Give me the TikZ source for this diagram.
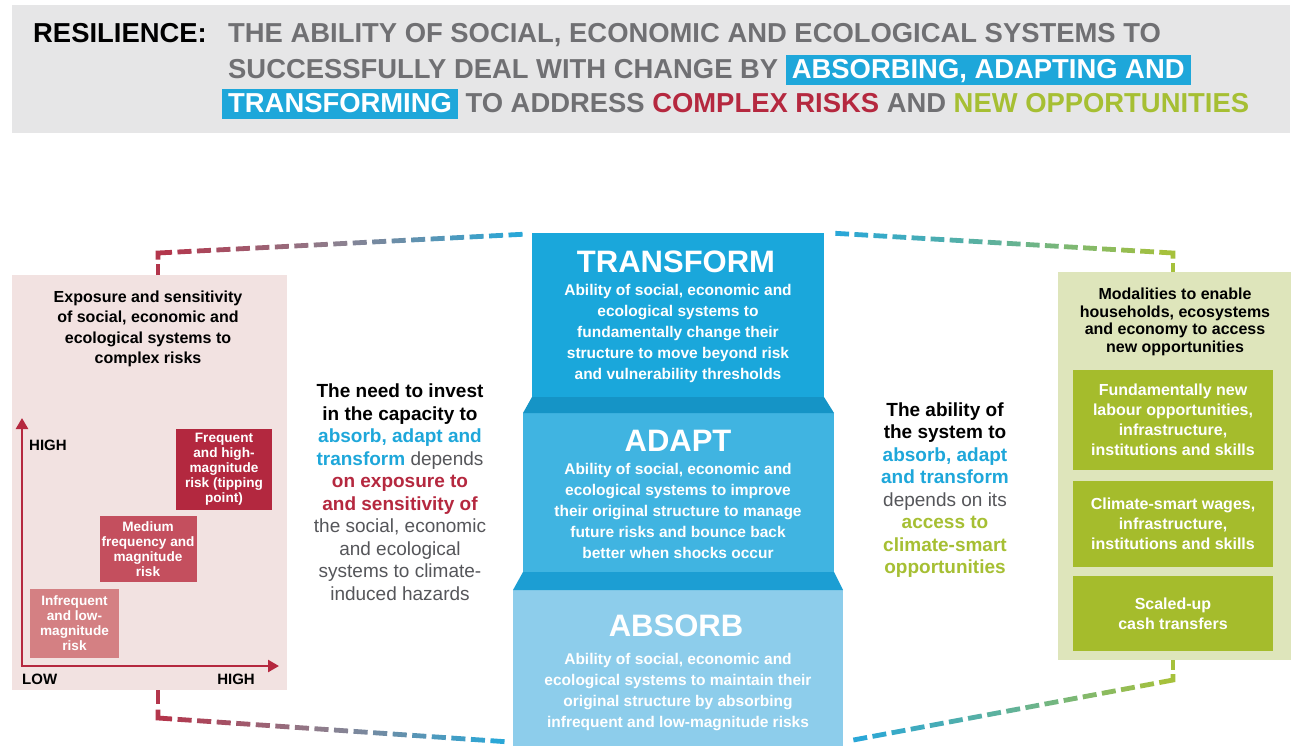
\documentclass[tikz,border=0pt]{standalone}
\usepackage{fontspec}
\setmainfont{Liberation Sans}
\usetikzlibrary{calc,arrows.meta}

\definecolor{hdrgray}{HTML}{E6E6E7}
\definecolor{hdrtext}{HTML}{707073}
\definecolor{crim}{HTML}{B5283F}
\definecolor{skyblue}{HTML}{1EA7DA}
\definecolor{olive}{HTML}{A6BF33}
\definecolor{pinkbg}{HTML}{F2E2E1}
\definecolor{olivebg}{HTML}{DEE5BB}
\definecolor{oliveboxc}{HTML}{A5BC2C}
\definecolor{riskhi}{HTML}{B3283F}
\definecolor{riskmd}{HTML}{C44F5E}
\definecolor{risklo}{HTML}{D48083}
\definecolor{trcol}{HTML}{1AA7DB}
\definecolor{adcol}{HTML}{40B4E1}
\definecolor{abcol}{HTML}{8DCDEB}
\definecolor{faceA}{HTML}{1594C6}
\definecolor{faceB}{HTML}{1C9ED3}
\definecolor{bodygray}{HTML}{55565A}
\definecolor{dashcrim}{HTML}{B3364C}
\definecolor{dashmauve}{HTML}{8C8190}
\definecolor{dashblue}{HTML}{2AA7D7}
\definecolor{dashteal}{HTML}{62B297}
\definecolor{dashgreen}{HTML}{A6C13C}

% highlighted words in the headline
\newcommand\hdrmark[1]{{\setlength{\fboxsep}{0pt}\colorbox{skyblue}{\rule[-6.5pt]{0pt}{30pt}\hspace{6pt}\textcolor{white}{#1}\hspace{6pt}}}}

% dashed connector: short vertical run #1->#2, then a dashed run #2->#3 whose
% colour fades from #4 through #5 to #6, in #7 dashes
\newcommand\fadeconnector[7]{%
  \draw[dashseg, draw=#4] (#1) -- ($(#1)!0.5!(#2)$);
  \draw[dashseg, draw=#4] ($(#1)!0.7!(#2)$) -- (#2) -- ($(#2)!{0.72/#7}!(#3)$);
  \foreach \k in {2,...,#7}{%
    \pgfmathsetmacro\fdA{(\k-1)/#7}%
    \pgfmathsetmacro\fdB{(\k-0.28)/#7}%
    \pgfmathsetmacro\fdF{(\k-1)/(#7-1)}%
    \ifdim\fdF pt<0.5pt
      \pgfmathsetmacro\fdP{100-200*\fdF}%
      \draw[dashseg, draw=#4!\fdP!#5] ($(#2)!\fdA!(#3)$) -- ($(#2)!\fdB!(#3)$);
    \else
      \pgfmathsetmacro\fdP{200-200*\fdF}%
      \draw[dashseg, draw=#5!\fdP!#6] ($(#2)!\fdA!(#3)$) -- ($(#2)!\fdB!(#3)$);
    \fi
  }%
}

\tikzset{
  panel/.style={inner sep=0pt, outer sep=0pt, anchor=north west, draw=none},
  hdrtxt/.style={inner sep=0pt, anchor=base west, text=hdrtext, font=\bfseries\fontsize{27.4}{30}\selectfont},
  steptitle/.style={inner sep=0pt, text=white, font=\bfseries\fontsize{31}{32}\selectfont},
  stepbody/.style={inner sep=0pt, align=center, text=white, font=\bfseries\fontsize{15.5}{21}\selectfont},
  paneltitle/.style={inner sep=0pt, align=center, text=black, font=\bfseries\fontsize{16}{20.3}\selectfont},
  risktxt/.style={inner sep=0pt, outer sep=0pt, align=center, text=white, font=\bfseries\fontsize{13.6}{15}\selectfont},
  opptxt/.style={inner sep=0pt, outer sep=0pt, align=center, text=white, font=\bfseries\fontsize{16}{20}\selectfont},
  sidetxt/.style={inner sep=0pt, align=center, font=\fontsize{19}{22.5}\selectfont},
  axlbl/.style={inner sep=0pt, text=black, font=\bfseries\fontsize{15}{16}\selectfont},
  axisline/.style={draw=crim, line width=2.5pt, -{Triangle[width=12pt,length=11pt]}},
  dashseg/.style={line width=4.8pt, line join=miter},
}

\begin{document}
\begin{tikzpicture}[x=1pt,y=-1pt]
\useasboundingbox[fill=white] (0,0) rectangle (1295,745);

% ---------- headline ----------
\node[panel, fill=hdrgray, minimum width=1278, minimum height=128] (hdr) at (12,5) {};
\node[hdrtxt, text=black] (res) at (33,42) {RESILIENCE:};
\node[hdrtxt] (h1) at (228,42) {THE ABILITY OF SOCIAL, ECONOMIC AND ECOLOGICAL SYSTEMS TO};
\node[hdrtxt] (h2) at (228,78) {SUCCESSFULLY DEAL WITH CHANGE BY \hdrmark{ABSORBING, ADAPTING AND}};
\node[hdrtxt] (h3) at (222,112) {\hdrmark{TRANSFORMING} TO ADDRESS \textcolor{crim}{COMPLEX RISKS} AND \textcolor{olive}{NEW OPPORTUNITIES}};

% ---------- left panel: risks ----------
\node[panel, fill=pinkbg, minimum width=275, minimum height=415] (risk) at (12,275) {};
\node[paneltitle] (risktitle) at (148,329) {Exposure and sensitivity\\of social, economic and\\ecological systems to\\complex risks};

\coordinate (orig) at (22,666);
\coordinate (ytip) at (22,418);
\coordinate (xtip) at (279,666);
\draw[axisline] (orig) -- (ytip);
\draw[axisline] ([xshift=-1.25pt]orig) -- (xtip);
\node[axlbl, anchor=west] (yhigh) at (29,445) {HIGH};
\node[axlbl, anchor=west] (xlow) at (22,679) {LOW};
\node[axlbl, anchor=east] (xhigh) at (255,679) {HIGH};

\node[risktxt, fill=riskhi, minimum width=96, minimum height=81] (hi) at (224,469.5) {Frequent\\and high-\\magnitude\\risk (tipping\\point)};
\node[risktxt, fill=riskmd, minimum width=97, minimum height=66] (md) at (148,549) {Medium\\frequency and\\magnitude\\risk};
\node[risktxt, fill=risklo, minimum width=89, minimum height=69] (lo) at (74.5,623.5) {Infrequent\\and low-\\magnitude\\risk};

% ---------- left explanation ----------
\node[sidetxt] (need) at (400,492) {%
\textbf{The need to invest}\\
\textbf{in the capacity to}\\
\textcolor{skyblue}{\textbf{absorb, adapt and}}\\
\textcolor{skyblue}{\textbf{transform}} \textcolor{bodygray}{depends}\\
\textcolor{crim}{\textbf{on exposure to}}\\
\textcolor{crim}{\textbf{and sensitivity of}}\\
\textcolor{bodygray}{the social, economic}\\
\textcolor{bodygray}{and ecological}\\
\textcolor{bodygray}{systems to climate-}\\
\textcolor{bodygray}{induced hazards}};

% ---------- central stack ----------
\node[panel, fill=trcol, minimum width=292, minimum height=164] (transform) at (532,233) {};
\node[panel, fill=adcol, minimum width=311, minimum height=159] (adapt) at (523,413) {};
\node[panel, fill=abcol, minimum width=330, minimum height=156] (absorb) at (513,590) {};
\fill[faceA] (transform.south west) -- (transform.south east) -- (adapt.north east) -- (adapt.north west) -- cycle;
\fill[faceB] (adapt.south west) -- (adapt.south east) -- (absorb.north east) -- (absorb.north west) -- cycle;

\node[steptitle] (trT) at (676,262) {TRANSFORM};
\node[stepbody] (trB) at (678,333) {Ability of social, economic and\\ecological systems to\\fundamentally change their\\structure to move beyond risk\\and vulnerability thresholds};
\node[steptitle] (adT) at (678,441) {ADAPT};
\node[stepbody] (adB) at (678,511) {Ability of social, economic and\\ecological systems to improve\\their original structure to manage\\future risks and bounce back\\better when shocks occur};
\node[steptitle] (abT) at (676,626) {ABSORB};
\node[stepbody] (abB) at (678,692) {Ability of social, economic and\\ecological systems to maintain their\\original structure by absorbing\\infrequent and low-magnitude risks};

% ---------- right explanation ----------
\node[sidetxt] (ability) at (945,490) {%
\textbf{The ability of}\\
\textbf{the system to}\\
\textcolor{skyblue}{\textbf{absorb, adapt}}\\
\textcolor{skyblue}{\textbf{and transform}}\\
\textcolor{bodygray}{depends on its}\\
\textcolor{olive}{\textbf{access to}}\\
\textcolor{olive}{\textbf{climate-smart}}\\
\textcolor{olive}{\textbf{opportunities}}};

% ---------- right panel: opportunities ----------
\node[panel, fill=olivebg, minimum width=233, minimum height=388] (opp) at (1058,272) {};
\node[paneltitle, font=\bfseries\fontsize{16}{17.5}\selectfont] (opptitle) at (1175,322) {Modalities to enable\\households, ecosystems\\and economy to access\\new opportunities};
\node[opptxt, fill=oliveboxc, minimum width=200, minimum height=100] (o1) at (1173,420) {Fundamentally new\\labour opportunities,\\infrastructure,\\institutions and skills};
\node[opptxt, fill=oliveboxc, minimum width=200, minimum height=86] (o2) at (1173,524) {Climate-smart wages,\\infrastructure,\\institutions and skills};
\node[opptxt, fill=oliveboxc, minimum width=200, minimum height=75] (o3) at (1173,613.5) {Scaled-up\\cash transfers};

% ---------- dashed connectors ----------
\coordinate (lt0) at (158,275);
\coordinate (lt1) at (158,253);
\coordinate (lt2) at (528,234);
\coordinate (rt0) at (1173,272);
\coordinate (rt1) at (1173,253);
\coordinate (rt2) at (830,233);
\coordinate (rb0) at (1173,660);
\coordinate (rb1) at (1173,680);
\coordinate (rb2) at (848,741);
\coordinate (lb0) at (158,690);
\coordinate (lb1) at (158,718);
\coordinate (lb2) at (510,742);
\fadeconnector{lt0}{lt1}{lt2}{dashcrim}{dashmauve}{dashblue}{19}
\fadeconnector{rt0}{rt1}{rt2}{dashgreen}{dashteal}{dashblue}{18}
\fadeconnector{rb0}{rb1}{rb2}{dashgreen}{dashteal}{dashblue}{17}
\fadeconnector{lb0}{lb1}{lb2}{dashcrim}{dashmauve}{dashblue}{18}
\end{tikzpicture}
\end{document}
